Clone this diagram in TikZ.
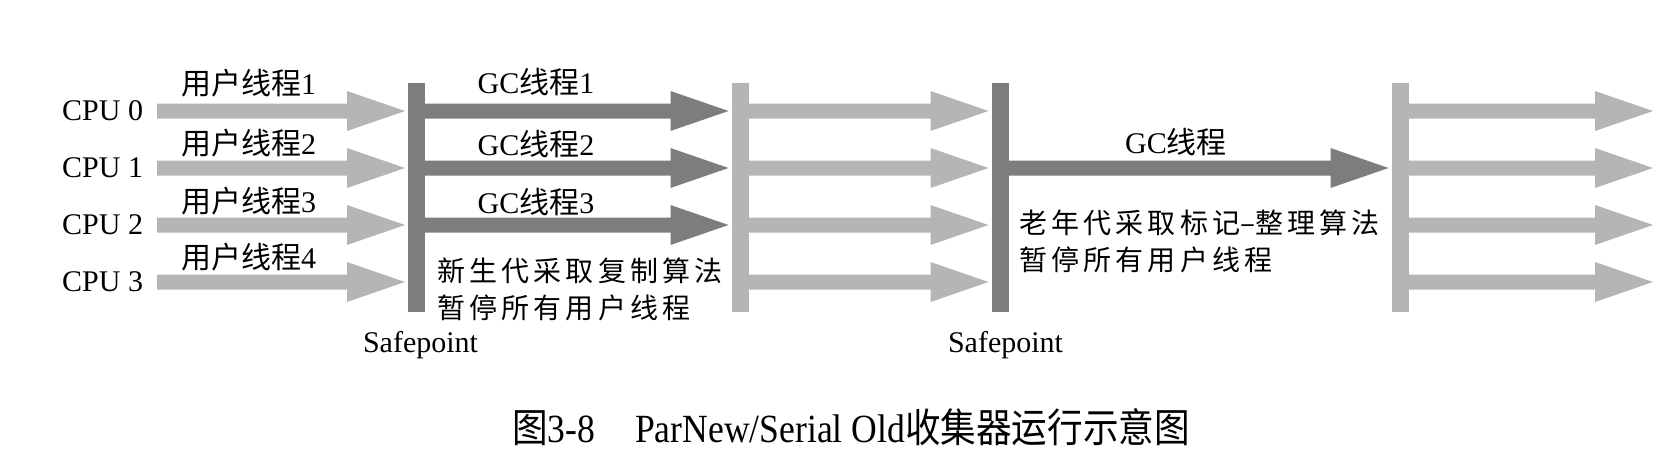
\documentclass[tikz,border=0pt]{standalone}
\usepackage{fontspec}
\setmainfont{Liberation Serif}
\newfontfamily\cjk{Noto Sans CJK SC}
\newfontfamily\cjkw[LetterSpace=15]{Noto Sans CJK SC}
\usetikzlibrary{calc}
\definecolor{darkg}{gray}{0.49}
\definecolor{lightg}{gray}{0.71}
\tikzset{
  bar/.style={draw=none, minimum width=17pt, minimum height=229pt, inner sep=0pt, outer sep=0pt},
  lab/.style={font=\fontsize{30}{36}\selectfont, inner sep=0pt},
  desc/.style={font=\cjkw\fontsize{28}{37}\selectfont, inner sep=0pt, align=left, anchor=west},
  arr/.style={to path={let \p1=(\tikztostart), \p2=(\tikztotarget) in
    (\x1,\y1+7.5pt) -- (\x2-61pt,\y1+7.5pt) -- (\x2-61pt,\y2+20pt) -- (\x2-3pt,\y2)
    -- (\x2-61pt,\y2-20pt) -- (\x2-61pt,\y1-7.5pt) -- (\x1,\y1-7.5pt) -- cycle}},
}
\begin{document}
\begin{tikzpicture}[x=1pt,y=-1pt]
\useasboundingbox (0,0) rectangle (1678,460);
% rows
\coordinate (r0) at (0,111);
\coordinate (r1) at (0,168);
\coordinate (r2) at (0,225);
\coordinate (r3) at (0,282);
\coordinate (s) at (157,0);
\coordinate (e) at (1656,0);
% bars (safepoints / resume)
\node[bar,fill=darkg] (bar1) at (416.5,197.5) {};
\node[bar,fill=lightg] (bar2) at (740,197.5) {};
\node[bar,fill=darkg] (bar3) at (1000,197.5) {};
\node[bar,fill=lightg] (bar4) at (1400,197.5) {};
% CPU labels
\foreach \i in {0,...,3} \node[lab,anchor=west] (cpu\i) at ($(62,0)+(r\i)$) {CPU \i};
% user threads
\foreach \i in {0,...,3} \path[fill=lightg] (s |- r\i) to[arr] (bar1.west |- r\i);
\node[lab] (u0) at (248.5,83) {{\cjk 用户线程}1};
\node[lab] (u1) at (248.5,143.5) {{\cjk 用户线程}2};
\node[lab] (u2) at (248.5,201) {{\cjk 用户线程}3};
\node[lab] (u3) at (248.5,257.5) {{\cjk 用户线程}4};
% GC threads (parallel)
\foreach \i in {0,...,2} \path[fill=darkg] (bar1.east |- r\i) to[arr] (bar2.west |- r\i);
\node[lab] (g0) at (536,82.5) {GC{\cjk 线程}1};
\node[lab] (g1) at (536,144) {GC{\cjk 线程}2};
\node[lab] (g2) at (536,202) {GC{\cjk 线程}3};
\node[desc] (d1) at (437,289) {新生代采取复制算法\\暂停所有用户线程};
\node[lab] (sp1) at (420.5,345) {Safepoint};
% user threads again
\foreach \i in {0,...,3} \path[fill=lightg] (bar2.east |- r\i) to[arr] (bar3.west |- r\i);
% serial old GC thread
\path[fill=darkg] (bar3.east |- r1) to[arr] (bar4.west |- r1);
\node[lab] (g3) at (1176,142) {GC{\cjk 线程}};
\node[desc] (d2) at (1019,241) {老年代采取标记{\cjk –}整理算法\\暂停所有用户线程};
\node[lab] (sp2) at (1005.5,345) {Safepoint};
% user threads resume
\foreach \i in {0,...,3} \path[fill=lightg] (bar4.east |- r\i) to[arr] (e |- r\i);
% caption
\node[anchor=base, inner sep=0pt, font=\fontsize{40}{48}\selectfont] (cap) at (851,442)
  {\scalebox{0.89}[1]{{\cjk 图}3-8\hspace{45pt}ParNew/Serial Old{\cjk 收集器运行示意图}}};
\end{tikzpicture}
\end{document}
